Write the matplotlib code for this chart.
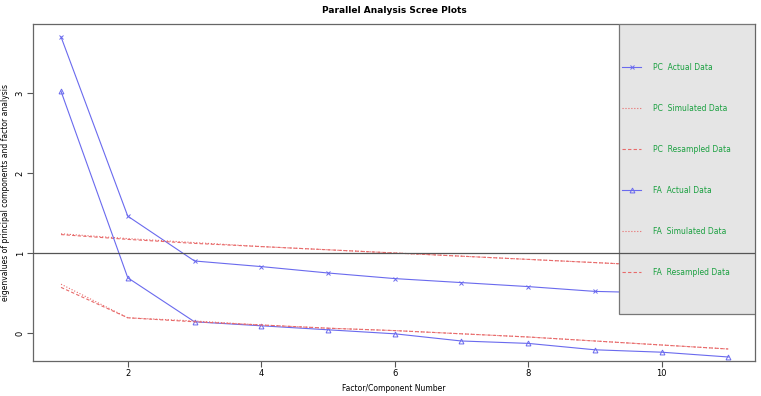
import numpy as np
import matplotlib
matplotlib.use("Agg")
import matplotlib.pyplot as plt
from matplotlib.patches import Rectangle

factors = [1, 2, 3, 4, 5, 6, 7, 8, 9, 10, 11]
pc_actual = [3.70, 1.46, 0.90, 0.83, 0.75, 0.68, 0.63, 0.58, 0.52, 0.50, 0.46]
pc_simulated = [1.24, 1.18, 1.13, 1.08, 1.04, 1.00, 0.96, 0.92, 0.88, 0.84, 0.80]
pc_resampled = [1.23, 1.17, 1.12, 1.08, 1.04, 1.00, 0.96, 0.92, 0.88, 0.84, 0.80]
fa_actual = [3.02, 0.69, 0.14, 0.09, 0.04, -0.01, -0.10, -0.13, -0.21, -0.24, -0.30]
fa_simulated = [0.61, 0.19, 0.15, 0.10, 0.06, 0.03, -0.01, -0.05, -0.10, -0.15, -0.20]
fa_resampled = [0.57, 0.19, 0.14, 0.10, 0.06, 0.03, -0.01, -0.05, -0.10, -0.15, -0.20]

blue = "#6a6aee"
red = "#e86a6a"

fig = plt.figure(figsize=(7.61, 3.96), dpi=100)
ax = fig.add_axes([0.0434, 0.0884, 0.9487, 0.8506])

ax.plot(factors, pc_actual, color=blue, lw=0.8, marker="x", ms=3.5, mew=0.7, label="PC  Actual Data")
ax.plot(factors, pc_simulated, color=red, lw=0.8, ls=":", label="PC  Simulated Data")
ax.plot(factors, pc_resampled, color=red, lw=0.8, ls=(0, (3, 2)), label="PC  Resampled Data")
ax.plot(factors, fa_actual, color=blue, lw=0.8, marker="^", ms=3.5, mew=0.7, mfc="none", label="FA  Actual Data")
ax.plot(factors, fa_simulated, color=red, lw=0.8, ls=":", label="FA  Simulated Data")
ax.plot(factors, fa_resampled, color=red, lw=0.8, ls=(0, (3, 2)), label="FA  Resampled Data")

ax.axhline(1, color="#555555", lw=0.9, zorder=6)

ax.set_xlim(0.58, 11.4)
ax.set_ylim(-0.35, 3.86)
ax.set_xticks([2, 4, 6, 8, 10])
ax.set_yticks([0, 1, 2, 3])
ax.tick_params(labelsize=6, length=4, width=0.8, color="#555555", pad=2)
for lab in ax.get_yticklabels():
    lab.set_rotation(90)
    lab.set_va("center")
for s in ax.spines.values():
    s.set_color("#666666")
    s.set_linewidth(0.9)

ax.set_title("Parallel Analysis Scree Plots", fontsize=6.5, fontweight="bold", pad=8)
ax.set_xlabel("Factor/Component Number", fontsize=5.5, labelpad=4)
ax.set_ylabel("eigenvalues of principal components and factor analysis", fontsize=5.5, labelpad=4)

# legend background box (R style, drawn below the abline)
ax.add_patch(Rectangle((0.8116, 0.139), 0.1884, 0.861, transform=ax.transAxes,
                       facecolor="#e5e5e5", edgecolor="#777777", lw=0.9, zorder=5))

leg = ax.legend(loc="upper left", bbox_to_anchor=(0.8158, 0.886), frameon=False,
                borderaxespad=0, borderpad=0, fontsize=5.5, labelspacing=4.2,
                handlelength=2.5, handletextpad=1.6, labelcolor="#1aa040")
leg.set_zorder(5.5)

fig.savefig("out.png", dpi=100)
